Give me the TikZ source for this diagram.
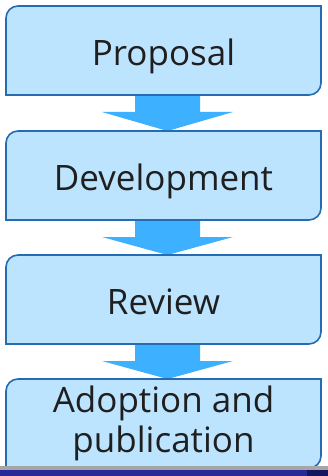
\documentclass[tikz,border=0pt]{standalone}
\usepackage{fontspec}
\setmainfont{Open Sans}
\usepackage{tikz}
\usetikzlibrary{positioning,backgrounds,calc}

\definecolor{boxfill}{RGB}{189,228,255}
\definecolor{boxline}{RGB}{38,108,178}
\definecolor{flowblue}{RGB}{61,176,255}
\definecolor{barblue}{RGB}{40,40,150}
\definecolor{bardark}{RGB}{22,22,96}

\tikzset{
  stage/.style={minimum width=315pt, minimum height=89pt, inner sep=0pt,
    outer sep=0pt, align=center, font=\fontsize{35}{40}\selectfont,
    text=black!88},
  oneline/.style={text height=30pt, text depth=0pt},
  stageline/.style={draw=boxline, fill=boxfill, line width=1.6pt},
  flowarrow/.style={fill=flowblue}
}

\begin{document}
\begin{tikzpicture}[x=1pt,y=1pt]
    \useasboundingbox (0,0) rectangle (328,-476);

    \node[stage, oneline] (prop) at (163.5,-50.5) {Proposal};
    \node[stage, oneline, below=36pt of prop] (dev) {Development};
    \node[stage, oneline, below=35pt of dev] (rev) {Review};
    \node[stage, below=35pt of rev] (adopt) {Adoption and\\publication};

    \begin{scope}[on background layer]
    % arrows first, then boxes over them
    \foreach \a/\b in {prop/dev,dev/rev,rev/adopt}{
        \coordinate (s) at ([xshift=4pt]\a.south);
        \coordinate (t) at ([xshift=4pt]\b.north);
        \fill[flowarrow] ($(s)+(-32.5,0)$) -- ($(s)+(-32.5,-17)$)
            -- ($(s)+(-65.5,-17)$) -- (t) -- ($(s)+(65.5,-17)$)
            -- ($(s)+(32.5,-17)$) -- ($(s)+(32.5,0)$) -- cycle;
    }
    \foreach \n in {prop,dev,rev,adopt}{
        \draw[stageline] (\n.south west) -- ([yshift=-12pt]\n.north west)
            arc[start angle=180,end angle=90,radius=12pt]
            -- (\n.north east) -- ([yshift=12pt]\n.south east)
            arc[start angle=0,end angle=-90,radius=12pt] -- cycle;
    }
    \end{scope}

    % strip at the foot
    \fill[gray!70] (0,-466) rectangle (328,-470);
    \fill[barblue] (0,-470) rectangle (307,-476);
    \fill[bardark] (307,-470) rectangle (328,-476);
\end{tikzpicture}
\end{document}
